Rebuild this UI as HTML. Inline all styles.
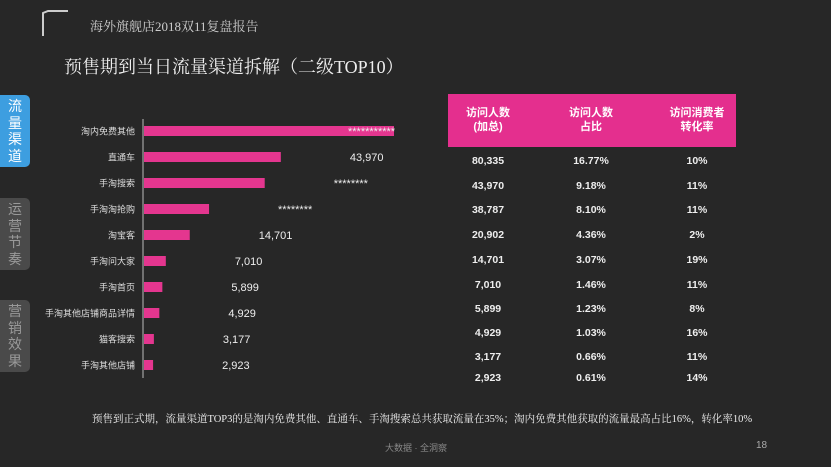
<!DOCTYPE html>
<html><head><meta charset="utf-8"><style>
body{margin:0;width:831px;height:467px;background:#272727;overflow:hidden;position:relative;font-family:"Liberation Sans","Noto Sans CJK SC",sans-serif;color:#fff}
.abs{position:absolute}
.serif{font-family:"Liberation Serif","Noto Serif CJK SC",serif}
.tab{position:absolute;left:0;width:30px;border-radius:0 5px 5px 0;font-size:14px;line-height:16.5px;text-align:center;padding-top:3px;box-sizing:border-box;overflow:hidden}
</style></head><body>
<svg class="abs" style="left:40px;top:8px" width="30" height="30"><path d="M3 28V5L8 3H28" stroke="#ccc" stroke-width="2" fill="none"/></svg>
<div class="abs serif" style="left:90px;top:16px;font-size:13px;color:#ccc">海外旗舰店2018双11复盘报告</div>
<div class="abs serif" style="left:64px;top:53px;font-size:18px;color:#eee">预售期到当日流量渠道拆解（二级TOP10）</div>
<div class="tab" style="top:95px;height:72px;background:#3d9ee0;color:#fff">流<br>量<br>渠<br>道</div>
<div class="tab" style="top:198px;height:72px;background:#4a4a4a;color:#999">运<br>营<br>节<br>奏</div>
<div class="tab" style="top:300px;height:72px;background:#4a4a4a;color:#999">营<br>销<br>效<br>果</div>
<svg id="chart" class="abs" style="left:0;top:0" width="831" height="467"></svg>
<div class="abs" style="left:448px;top:94px;width:288px;height:53px;background:#e42f8e"></div>
<div id="tbl"></div>
<div class="abs serif" style="left:92px;top:411px;font-size:10.5px;color:#eee">预售到正式期，流量渠道TOP3的是淘内免费其他、直通车、手淘搜索总共获取流量在35%；淘内免费其他获取的流量最高占比16%，转化率10%</div>
<div class="abs" style="left:385px;top:441px;font-size:9px;color:#888">大数据 · 全洞察</div>
<div class="abs" style="left:756px;top:440px;font-size:10px;color:#aaa">18</div>
<script>
const categories=["淘内免费其他","直通车","手淘搜索","手淘淘抢购","淘宝客","手淘问大家","手淘首页","手淘其他店铺商品详情","猫客搜索","手淘其他店铺"];
const visitors=[80335,43970,38787,20902,14701,7010,5899,4929,3177,2923];
const shares=["16.77%","9.18%","8.10%","4.36%","3.07%","1.46%","1.23%","1.03%","0.66%","0.61%"];
const convRates=["10%","11%","11%","2%","19%","11%","8%","16%","11%","14%"];
const barLabels=["***********","43,970","********","********","14,701","7,010","5,899","4,929","3,177","2,923"];
const headers=["访问人数\n(加总)","访问人数\n占比","访问消费者\n转化率"];
const rowYs=[162,187,211,236,261,286,310,334,358,379];
const NS="http://www.w3.org/2000/svg";
const svg=document.getElementById('chart');
const x0=143,xs=v=>v*250/80335;
const y=i=>131+i*26;
function mk(t,a){const e=document.createElementNS(NS,t);for(const k in a)e.setAttribute(k,a[k]);svg.appendChild(e);return e;}
const ax=mk('line',{x1:x0,y1:119,x2:x0,y2:378,stroke:'#bbb','stroke-width':1});


categories.forEach((c,i)=>{
 const w=xs(visitors[i]);
 const r=mk('rect',{x:x0+1,y:y(i)-5,width:w,height:10,fill:'#e4368f'});
 
 
 const t=mk('text',{x:x0-8,y:y(i)+3.5,'text-anchor':'end','font-size':9,fill:'#ddd'});t.textContent=c;
 
 
 const lx=i===0?x0+w-45:x0+w+70;
 const v=mk('text',{x:lx,y:y(i)+4,'font-size':11,fill:'#eee'});v.textContent=barLabels[i];
 
 
});
const tbl=document.getElementById('tbl');
const cx=[488,591,697];
headers.forEach((h,j)=>{
 const d=document.createElement('div');
 
 
 d.className='abs';d.style.cssText=`left:${cx[j]-50}px;top:106px;width:100px;text-align:center;font-size:11px;font-weight:bold;line-height:14px;white-space:pre`;
 d.textContent=h;tbl.appendChild(d);
});
rowYs.forEach((ry,i)=>{
 [visitors[i].toLocaleString('en-US'),shares[i],convRates[i]].forEach((s,j)=>{
  const d=document.createElement('div');
  
  
  d.className='abs';d.style.cssText=`left:${cx[j]-50}px;top:${ry-7}px;width:100px;text-align:center;font-size:10.5px;font-weight:bold;color:#eee`;
  d.textContent=s;tbl.appendChild(d);
 });
});
</script>
</body></html>
